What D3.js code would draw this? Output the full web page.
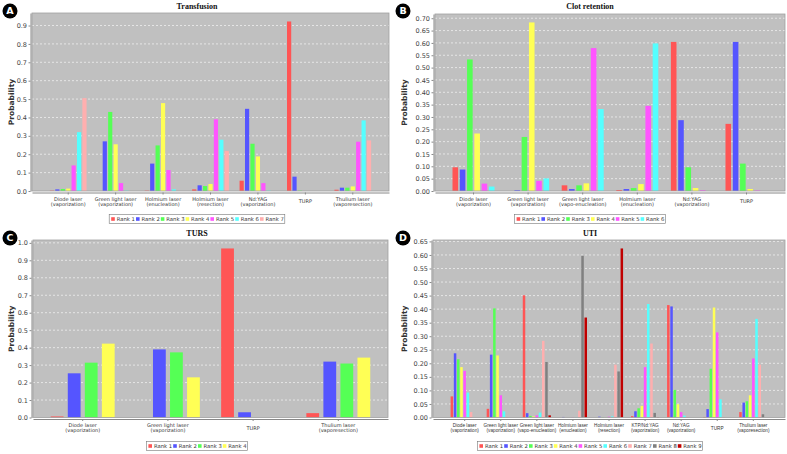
<!DOCTYPE html>
<html>
<head>
<meta charset="utf-8">
<script src="https://cdn.jsdelivr.net/npm/d3@7"></script>
<style>
  body { margin: 0; background: #fff; }
  svg { display: block; }
</style>
</head>
<body>
<svg id="fig" width="787" height="454"></svg>
<script>
// ---- data ----
var rankColors = ["#ff5555", "#5555ff", "#55ff55", "#ffff55", "#ff55ff", "#55ffff", "#ffafaf", "#808080", "#c00000"];

var transfusionCategories = [
  ["Diode laser", "(vaporization)"], ["Green light laser", "(vaporization)"],
  ["Holmium laser", "(enucleation)"], ["Holmium laser", "(resection)"],
  ["Nd:YAG", "(vaporization)"], ["TURP"], ["Thulium laser", "(vaporesection)"]
];
var transfusionRanks = ["Rank 1", "Rank 2", "Rank 3", "Rank 4", "Rank 5", "Rank 6", "Rank 7"];
var transfusionValues = [
  [0.002, 0.009, 0.011, 0.013, 0.139, 0.320, 0.505],
  [0.000, 0.270, 0.430, 0.254, 0.043, 0.002, 0.000],
  [0.002, 0.149, 0.248, 0.478, 0.114, 0.009, 0.000],
  [0.009, 0.031, 0.027, 0.038, 0.390, 0.279, 0.217],
  [0.056, 0.447, 0.257, 0.188, 0.043, 0.002, 0.000],
  [0.922, 0.078, 0.002, 0.000, 0.000, 0.000, 0.000],
  [0.007, 0.018, 0.018, 0.025, 0.268, 0.384, 0.275]
];

var clotCategories = [
  ["Diode laser", "(vaporization)"], ["Green light laser", "(vaporization)"],
  ["Green light laser", "(vapo-enucleation)"], ["Holmium laser", "(enucleation)"],
  ["Nd:YAG", "(vaporization)"], ["TURP"]
];
var clotRanks = ["Rank 1", "Rank 2", "Rank 3", "Rank 4", "Rank 5", "Rank 6"];
var clotValues = [
  [0.096, 0.087, 0.533, 0.233, 0.030, 0.018],
  [0.000, 0.003, 0.219, 0.683, 0.041, 0.051],
  [0.023, 0.008, 0.023, 0.031, 0.579, 0.332],
  [0.004, 0.008, 0.012, 0.028, 0.345, 0.598],
  [0.604, 0.287, 0.096, 0.012, 0.003, 0.000],
  [0.272, 0.604, 0.111, 0.008, 0.002, 0.000]
];

var tursCategories = [
  ["Diode laser", "(vaporization)"], ["Green light laser", "(vaporization)"],
  ["TURP"], ["Thulium laser", "(vaporesection)"]
];
var tursRanks = ["Rank 1", "Rank 2", "Rank 3", "Rank 4"];
var tursValues = [
  [0.006, 0.253, 0.314, 0.423],
  [0.000, 0.390, 0.373, 0.230],
  [0.968, 0.030, 0.000, 0.000],
  [0.025, 0.320, 0.309, 0.343]
];

var utiCategories = [
  ["Diode laser", "(vaporization)"], ["Green light laser", "(vaporization)"],
  ["Green light laser", "(vapo-enucleation)"], ["Holmium laser", "(enucleation)"],
  ["Holmium laser", "(resection)"], ["KTP/Nd:YAG", "(vaporization)"],
  ["Nd:YAG", "(vaporization)"], ["TURP"], ["Thulium laser", "(vaporesection)"]
];
var utiRanks = ["Rank 1", "Rank 2", "Rank 3", "Rank 4", "Rank 5", "Rank 6", "Rank 7", "Rank 8", "Rank 9"];
var utiValues = [
  [0.078, 0.237, 0.215, 0.186, 0.172, 0.092, 0.020, 0.000, 0.000],
  [0.032, 0.232, 0.403, 0.229, 0.082, 0.023, 0.002, 0.000, 0.000],
  [0.451, 0.016, 0.006, 0.004, 0.008, 0.018, 0.283, 0.205, 0.008],
  [0.000, 0.002, 0.000, 0.000, 0.001, 0.001, 0.025, 0.597, 0.369],
  [0.000, 0.003, 0.001, 0.000, 0.003, 0.004, 0.195, 0.170, 0.624],
  [0.005, 0.023, 0.034, 0.043, 0.186, 0.419, 0.273, 0.017, 0.001],
  [0.415, 0.410, 0.102, 0.049, 0.020, 0.007, 0.002, 0.000, 0.000],
  [0.002, 0.031, 0.180, 0.406, 0.314, 0.067, 0.002, 0.000, 0.000],
  [0.020, 0.055, 0.060, 0.082, 0.218, 0.364, 0.195, 0.012, 0.000]
];

// ---- layout ----
var sans = "'DejaVu Sans', sans-serif";
var narrow = "'Liberation Sans', Arial, sans-serif";

var panels = [
  { letter: "A", title: "Transfusion", categories: transfusionCategories, ranks: transfusionRanks, values: transfusionValues,
    tickStep: 0.1, fmt: ".1f", left: 0, top: 0, plot: { x: 32, y: 13, w: 357, h: 178 }, catFont: sans, catSize: 5 },
  { letter: "B", title: "Clot retention", categories: clotCategories, ranks: clotRanks, values: clotValues,
    tickStep: 0.05, fmt: ".2f", left: 393, top: 0, plot: { x: 435, y: 14, w: 350, h: 177 }, catFont: sans, catSize: 5 },
  { letter: "C", title: "TURS", categories: tursCategories, ranks: tursRanks, values: tursValues,
    tickStep: 0.1, fmt: ".1f", left: 0, top: 227, plot: { x: 33, y: 240, w: 355, h: 177.5 }, catFont: sans, catSize: 5 },
  { letter: "D", title: "UTI", categories: utiCategories, ranks: utiRanks, values: utiValues,
    tickStep: 0.05, fmt: ".2f", left: 393, top: 227, plot: { x: 433, y: 240, w: 352, h: 177.5 }, catFont: narrow, catSize: 4.7 }
];

var svg = d3.select("#fig");

function drawPanel(p) {
  var g = svg.append("g");
  var n = p.categories.length, m = p.ranks.length;
  var W = p.plot.w, bottom = p.plot.y + p.plot.h;
  var cx = p.left + 197;

  // category spacing like the default bar renderer: 5% outer margins, 20% between categories
  var catBand = W * 0.9 * 0.8 / n, catGap = W * 0.9 * 0.2 / (n - 1);
  var step = catBand + catGap;
  var x = d3.scaleBand().domain(d3.range(n))
    .range([p.plot.x, p.plot.x + W])
    .paddingInner(catGap / step).paddingOuter(W * 0.05 / step);
  var bw = x.bandwidth() * 0.8 / m, ig = x.bandwidth() * 0.2 / (m - 1);
  var xr = d3.scaleBand().domain(d3.range(m)).range([0, x.bandwidth()])
    .paddingInner(ig / (bw + ig)).paddingOuter(0);

  var ymax = d3.max(p.values, function (r) { return d3.max(r); }) * 1.05;
  var y = d3.scaleLinear().domain([0, ymax]).range([bottom, p.plot.y]);
  var ticks = d3.range(0, ymax + 1e-9, p.tickStep);

  // plot background
  g.append("rect").attr("x", p.plot.x).attr("y", p.plot.y)
    .attr("width", W).attr("height", p.plot.h).attr("fill", "#c0c0c0");

  g.append("g").selectAll("line").data(ticks.slice(1)).enter().append("line")
    .attr("x1", p.plot.x).attr("x2", p.plot.x + W)
    .attr("y1", function (d) { return y(d); }).attr("y2", function (d) { return y(d); })
    .attr("stroke", "#fff").attr("stroke-width", 0.6).attr("stroke-dasharray", "2,2");

  // bars
  var groups = g.append("g").selectAll("g").data(p.values).enter().append("g")
    .attr("transform", function (d, i) { return "translate(" + x(i) + ",0)"; });
  groups.selectAll("rect").data(function (d) { return d; }).enter().append("rect")
    .attr("x", function (d, j) { return xr(j); })
    .attr("y", function (d) { return y(d); })
    .attr("width", xr.bandwidth())
    .attr("height", function (d) { return bottom - y(d); })
    .attr("fill", function (d, j) { return rankColors[j]; });

  g.append("rect").attr("x", p.plot.x).attr("y", p.plot.y)
    .attr("width", W).attr("height", p.plot.h)
    .attr("fill", "none").attr("stroke", "#a0a0a0").attr("stroke-width", 0.8);

  // axes
  var yAxis = g.append("g").attr("transform", "translate(" + (p.plot.x - 1.5) + ",0)")
    .call(d3.axisLeft(y).tickValues(ticks).tickFormat(d3.format(p.fmt)).tickSize(2).tickSizeOuter(0).tickPadding(1.5));
  yAxis.select(".domain").attr("stroke", "#888");
  yAxis.selectAll(".tick line").attr("stroke", "#888");
  yAxis.selectAll("text").attr("font-family", sans).attr("font-size", 6.5).attr("fill", "#444");

  var xAxis = g.append("g").attr("transform", "translate(0," + (bottom + 1.5) + ")")
    .call(d3.axisBottom(x).tickFormat("").tickSize(2).tickSizeOuter(0));
  xAxis.select(".domain").attr("stroke", "#888");
  xAxis.selectAll(".tick line").attr("stroke", "#888");

  // category labels (one or two lines)
  var labs = g.append("g").selectAll("text").data(p.categories).enter().append("text")
    .attr("font-family", p.catFont).attr("font-size", p.catSize).attr("fill", "#333").attr("text-anchor", "middle")
    .attr("transform", function (d, i) {
      return "translate(" + (x(i) + x.bandwidth() / 2) + "," + (bottom + (d.length === 1 ? 12 : 9.5)) + ")";
    });
  labs.selectAll("tspan").data(function (d) { return d; }).enter().append("tspan")
    .attr("x", 0).attr("dy", function (d, k) { return k === 0 ? 0 : 5.3; })
    .text(function (d) { return d; });

  // y axis title
  g.append("text").attr("transform", "translate(" + (p.left + 14) + "," + (p.plot.y + p.plot.h / 2) + ") rotate(-90)")
    .attr("text-anchor", "middle").attr("font-family", sans).attr("font-weight", "bold")
    .attr("font-size", 7.5).attr("fill", "#333").text("Probability");

  // chart title
  g.append("text").attr("x", cx).attr("y", p.top + 9)
    .attr("text-anchor", "middle").attr("font-family", "'Liberation Serif', serif")
    .attr("font-weight", "bold").attr("font-size", 8).attr("fill", "#111").text(p.title);

  // legend
  var itemW = 24.8, lw = m * itemW + 2, lx = cx - lw / 2, ly = p.top + 214.5;
  var leg = g.append("g");
  leg.append("rect").attr("x", lx).attr("y", ly).attr("width", lw).attr("height", 9)
    .attr("fill", "#fff").attr("stroke", "#777").attr("stroke-width", 0.6);
  var items = leg.selectAll("g").data(p.ranks).enter().append("g")
    .attr("transform", function (d, j) { return "translate(" + (lx + 2 + j * itemW) + "," + (ly + 4.5) + ")"; });
  items.append("rect").attr("x", 0).attr("y", -1.8).attr("width", 3.6).attr("height", 3.6)
    .attr("fill", function (d, j) { return rankColors[j]; });
  items.append("text").attr("x", 5.5).attr("y", 2).attr("font-family", sans)
    .attr("font-size", 5.3).attr("fill", "#333").text(function (d) { return d; });

  // panel letter badge
  g.append("circle").attr("cx", p.left + 10).attr("cy", p.top + 11).attr("r", 7.5).attr("fill", "#000");
  g.append("text").attr("x", p.left + 10).attr("y", p.top + 14.3).attr("text-anchor", "middle")
    .attr("font-family", sans).attr("font-weight", "bold").attr("font-size", 9.5)
    .attr("fill", "#fff").text(p.letter);
}

panels.forEach(drawPanel);
</script>
</body>
</html>
